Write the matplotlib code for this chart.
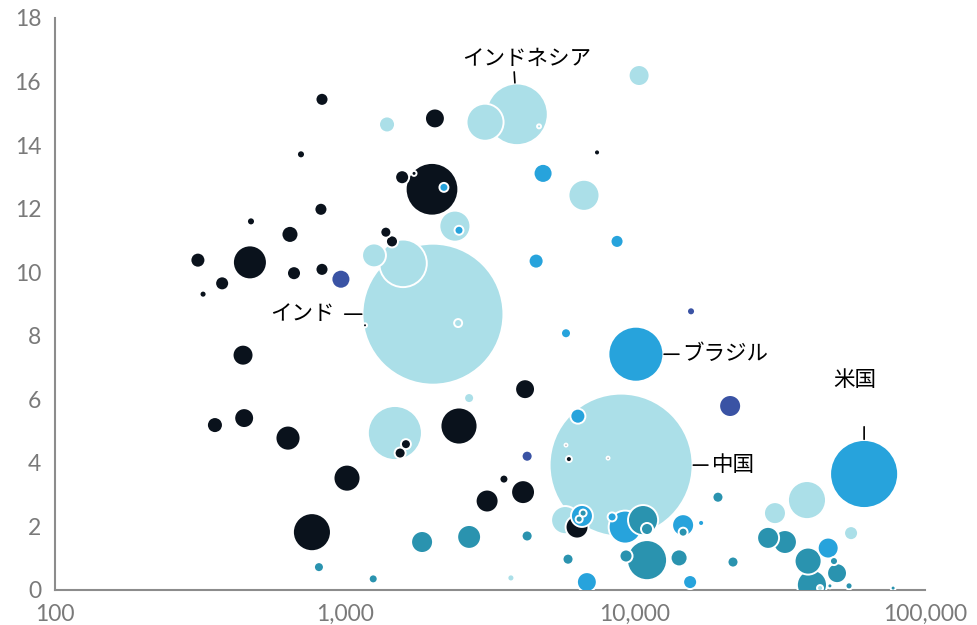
import matplotlib.pyplot as plt
import numpy as np

plt.rcParams['font.family'] = ['Lato', 'Noto Sans CJK JP', 'DejaVu Sans']

# GDP per capita (USD, log axis), rate (%), population (millions)
africa_gdp = [833, 705, 826, 474, 646, 311, 470, 667, 833, 377, 324, 445,
              356, 449, 636, 769, 2042, 7396, 1995, 1574, 1730, 1383, 1452,
              1172, 4177, 2472, 1622, 1549, 1016, 3532, 4111, 3090, 6310,
              5781, 5916, 8073]
africa_rate = [15.44, 13.71, 11.98, 11.60, 11.19, 10.38, 10.31, 9.97, 10.09,
               9.65, 9.31, 7.39, 5.19, 5.41, 4.78, 1.82, 14.84, 13.77, 12.61,
               12.99, 13.11, 11.26, 10.97, 8.33, 6.32, 5.16, 4.59, 4.31, 3.52,
               3.49, 3.08, 2.80, 1.98, 4.56, 4.12, 4.15]
africa_pop = [11.6, 4.4, 11.6, 4.4, 19.8, 15.4, 79, 13.4, 11.6, 13.4, 3.4,
              30, 17.5, 27, 43, 99, 27, 2.5, 190, 13.4, 1.7, 8.3, 9.9, 1.1,
              27, 94, 6.8, 8.3, 50, 5.5, 39, 36, 36, 0.6, 2.5, 0.6]

asia_gdp = [2010, 8954, 3917, 3040, 10330, 1396, 4667, 6668, 2393, 1259,
            1585, 2455, 2679, 1486, 5743, 3733, 39170, 30380, 55590, 43450]
asia_rate = [8.68, 3.93, 14.97, 14.72, 16.19, 14.65, 14.59, 12.42, 11.45,
             10.53, 10.28, 8.40, 6.04, 4.94, 2.20, 0.38, 2.83, 2.42, 1.79,
             0.06]
asia_pop = [1361, 1400, 260, 94, 30, 17.5, 1.1, 66, 66, 39, 155, 4.4, 6.8,
            200, 54, 3.4, 99, 33, 13.4, 2.5]

americas_gdp = [61660, 10070, 2193, 4819, 2472, 8670, 4560, 5781, 6353, 6561,
                8337, 9247, 14650, 16900, 6823, 15490, 46350]
americas_rate = [3.65, 7.42, 12.67, 13.11, 11.32, 10.97, 10.35, 8.08, 5.47,
                 2.33, 2.30, 1.98, 2.04, 2.11, 0.25, 0.25, 1.32]
americas_pop = [317, 207, 5.5, 24.7, 5.5, 11.6, 15.4, 6.8, 15.4, 33, 5.5,
                74.5, 33, 2.5, 27, 13.4, 30]

europe_gdp = [813, 1251, 1844, 2679, 4246, 5875, 6622, 6418, 10660, 11000,
              11000, 9311, 14190, 14650, 19320, 21770, 28770, 32890, 39520,
              48530, 49730, 40740, 46990, 54700, 77620]
europe_rate = [0.72, 0.35, 1.51, 1.67, 1.70, 0.97, 2.42, 2.23, 2.20, 1.92,
               0.94, 1.07, 1.01, 1.82, 2.92, 0.88, 1.64, 1.51, 0.91, 0.91,
               0.53, 0.16, 0.13, 0.13, 0.06]
europe_pop = [6.8, 5.5, 33, 39, 8.3, 8.3, 3.4, 3.4, 62, 9.9, 110, 11.6, 19.8,
              5.5, 8.3, 8.3, 33, 39, 50, 4.4, 27, 62, 1.7, 3.4, 1.7]

oceania_gdp = [968, 15600, 4246, 21280]
oceania_rate = [9.78, 8.77, 4.21, 5.79]
oceania_pop = [24.7, 4.4, 8.3, 33]

regions = [
    (africa_gdp, africa_rate, africa_pop, '#0a121c'),
    (asia_gdp, asia_rate, asia_pop, '#abdfe8'),
    (americas_gdp, americas_rate, americas_pop, '#27a3dc'),
    (europe_gdp, europe_rate, europe_pop, '#2a93af'),
    (oceania_gdp, oceania_rate, oceania_pop, '#3a53a4'),
]

# bubble area in points^2 per million people
scale = 7.57

xs, ys, ss, cs = [], [], [], []
for gdp, rate, pop, color in regions:
    for g, r, p in zip(gdp, rate, pop):
        xs.append(g)
        ys.append(r)
        ss.append(p * scale)
        cs.append(color)

# big bubbles first so small ones stay visible on top
order = np.argsort(ss)[::-1]
xs = np.array(xs)[order]
ys = np.array(ys)[order]
ss = np.array(ss)[order]
cs = np.array(cs)[order]

figure = plt.figure(figsize=(9.77, 6.25), dpi=100)
axes = figure.add_axes([0.0563, 0.056, 0.8905, 0.9152])
axes.scatter(xs, ys, s=ss, c=cs, edgecolors='white', linewidths=1.4,
             zorder=3)

axes.set_xscale('log')
axes.set_xlim(100, 100000)
axes.set_ylim(0, 18)
axes.set_xticks([100, 1000, 10000, 100000])
axes.set_xticklabels(['100', '1,000', '10,000', '100,000'])
axes.set_yticks(range(0, 19, 2))
axes.minorticks_off()
axes.tick_params(length=0, pad=10, labelsize=16.5, labelcolor='#7a7a7a')
for side in ['top', 'right']:
    axes.spines[side].set_visible(False)
for side in ['left', 'bottom']:
    axes.spines[side].set_color('#8c8c8c')
    axes.spines[side].set_linewidth(1.5)


def label(name, gdp, rate, pop, line_from, text_at, ha, va):
    radius = np.sqrt(pop * scale) / 2
    axes.annotate('', xy=(gdp, rate), xytext=line_from,
                  textcoords='offset points',
                  arrowprops=dict(arrowstyle='-', color='black', lw=1.2,
                                  shrinkA=0, shrinkB=radius + 0.5))
    axes.annotate(name, xy=(gdp, rate), xytext=text_at,
                  textcoords='offset points', ha=ha, va=va, fontsize=15.5,
                  family=['Noto Sans CJK JP', 'DejaVu Sans'], color='black')


label('インド', asia_gdp[0], asia_rate[0], asia_pop[0],
      (-63.5, 0), (-70.5, 0), 'right', 'center')
label('中国', asia_gdp[1], asia_rate[1], asia_pop[1],
      (62.5, 0), (65.5, 0), 'left', 'center')
label('インドネシア', asia_gdp[2], asia_rate[2], asia_pop[2],
      (-2, 30.5), (7, 40), 'center', 'center')
label('米国', americas_gdp[0], americas_rate[0], americas_pop[0],
      (0, 34), (-7, 68), 'center', 'center')
label('ブラジル', americas_gdp[1], americas_rate[1], americas_pop[1],
      (31, 0), (33, 0), 'left', 'center')

figure.savefig('out.png', dpi=100)
